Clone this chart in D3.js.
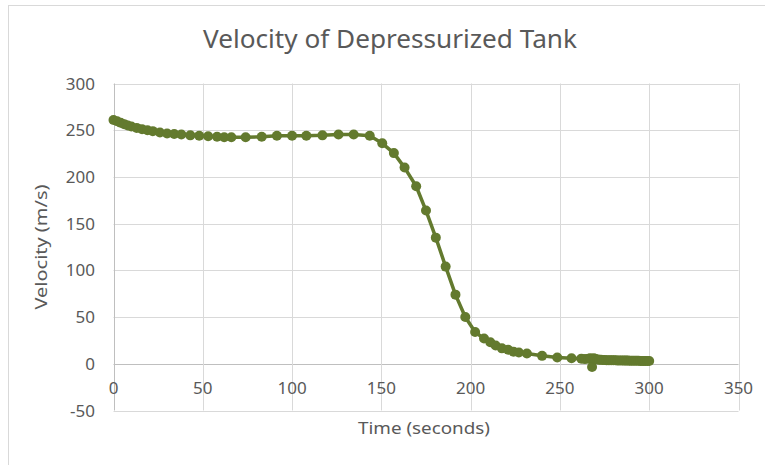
<!DOCTYPE html>
<html>
<head>
<meta charset="utf-8">
<script src="https://cdn.jsdelivr.net/npm/d3@7"></script>
<style>
  html, body { margin: 0; padding: 0; background: #fff; }
  svg { display: block; font-family: "Noto Sans", "Open Sans", sans-serif; }
</style>
</head>
<body>
<svg id="chart" width="765" height="465"></svg>
<script>
// ---- data ----
const chartTitle = "Velocity of Depressurized Tank";
const xAxisTitle = "Time (seconds)";
const yAxisTitle = "Velocity (m/s)";
const xTicks = [0, 50, 100, 150, 200, 250, 300, 350];
const yTicks = [-50, 0, 50, 100, 150, 200, 250, 300];

const timeSeconds = [
  0, 2, 4, 6, 8, 10, 13, 16, 19, 22, 26, 30, 34, 38, 43, 48, 53, 58, 62, 66,
  74, 83, 91.5, 100, 108, 117, 126, 134.5, 143.5,
  150.5, 157, 163, 169.5, 175, 180.5, 186, 191.5, 197, 202.5, 207.5,
  211, 214, 217.5, 221, 224, 227, 231.5, 240, 248.5, 256.5, 262, 264, 266, 267, 268, 269,
  270, 271, 272, 273, 274, 275, 276, 277, 278, 279, 280, 281, 282, 283, 284, 285,
  286, 287, 288, 289, 290, 291, 292, 293, 294, 295, 296, 297, 298, 299, 300
];
const velocity = [
  261, 259.5, 258, 256.5, 255, 254, 252.5, 251, 250, 249, 247.5, 246.5, 246, 245.5, 244.5, 244, 243.5, 243, 242.5, 242.5,
  242.5, 243, 244, 244, 244, 244.5, 245.5, 245.5, 244,
  236, 225.5, 210, 190, 164, 135, 104, 74, 50, 34, 27,
  23, 19.5, 16.5, 15, 13, 12, 11, 8.5, 6.8, 6, 5.5, 5, 5.5, 6, -3.5, 6,
  5, 4.5, 4.3, 4.2, 4.1, 4.0, 3.9, 3.9, 3.8, 3.8, 3.7, 3.7, 3.6, 3.6, 3.5, 3.5,
  3.4, 3.4, 3.4, 3.3, 3.3, 3.3, 3.2, 3.2, 3.2, 3.1, 3.1, 3.1, 3.0, 3.0, 3.0
];
const points = timeSeconds.map((t, i) => ({ t, v: velocity[i] }));

// ---- drawing ----
const svg = d3.select("#chart");
const textColor = "#595959";
const gridColor = "#d9d9d9";
const axisColor = "#bfbfbf";
const seriesColor = "#637a2e";

// chart border
svg.append("rect")
  .attr("x", 8.5).attr("y", 5.5)
  .attr("width", 800).attr("height", 500)
  .attr("fill", "#fff").attr("stroke", gridColor).attr("stroke-width", 1);

const x = d3.scaleLinear().domain([0, 350]).range([113.5, 738.5]);
const y = d3.scaleLinear().domain([-50, 300]).range([410.5, 83.5]);

// gridlines
svg.append("g").selectAll("line.h").data(yTicks).join("line")
  .attr("x1", x(0)).attr("x2", x(350))
  .attr("y1", d => Math.round(y(d)) + 0.5).attr("y2", d => Math.round(y(d)) + 0.5)
  .attr("stroke", d => d === 0 ? axisColor : gridColor).attr("stroke-width", 1);
svg.append("g").selectAll("line.v").data(xTicks).join("line")
  .attr("x1", d => Math.round(x(d)) + 0.5).attr("x2", d => Math.round(x(d)) + 0.5)
  .attr("y1", y(300)).attr("y2", y(-50))
  .attr("stroke", d => d === 0 ? axisColor : gridColor).attr("stroke-width", 1);

// y tick labels
svg.append("g").selectAll("text").data(yTicks).join("text")
  .attr("x", 95).attr("y", d => y(d))
  .attr("dy", "0.36em")
  .attr("text-anchor", "end")
  .attr("font-size", 17).attr("fill", textColor)
  .text(d => d);

// x tick labels (axis crosses at 0)
svg.append("g").selectAll("text").data(xTicks).join("text")
  .attr("x", d => x(d)).attr("y", y(0) + 30)
  .attr("text-anchor", "middle")
  .attr("font-size", 17).attr("fill", textColor)
  .text(d => d);

// title
svg.append("text")
  .attr("x", 390).attr("y", 48)
  .attr("text-anchor", "middle")
  .attr("font-size", 25).attr("fill", textColor)
  .attr("textLength", 374).attr("lengthAdjust", "spacingAndGlyphs")
  .text(chartTitle);

// axis titles
svg.append("text")
  .attr("x", 424).attr("y", 434)
  .attr("text-anchor", "middle")
  .attr("font-size", 17).attr("fill", textColor)
  .attr("textLength", 132).attr("lengthAdjust", "spacingAndGlyphs")
  .text(xAxisTitle);
svg.append("text")
  .attr("transform", `translate(47, ${(y(300) + y(-50)) / 2}) rotate(-90)`)
  .attr("text-anchor", "middle")
  .attr("font-size", 17).attr("fill", textColor)
  .attr("textLength", 125).attr("lengthAdjust", "spacingAndGlyphs")
  .text(yAxisTitle);

// series line
const line = d3.line().x(d => x(d.t)).y(d => y(d.v));
svg.append("path").datum(points)
  .attr("d", line)
  .attr("fill", "none").attr("stroke", seriesColor)
  .attr("stroke-width", 3.5).attr("stroke-linejoin", "round");

// markers
svg.append("g").selectAll("circle").data(points).join("circle")
  .attr("cx", d => x(d.t)).attr("cy", d => y(d.v))
  .attr("r", 5)
  .attr("fill", seriesColor);
</script>
</body>
</html>
